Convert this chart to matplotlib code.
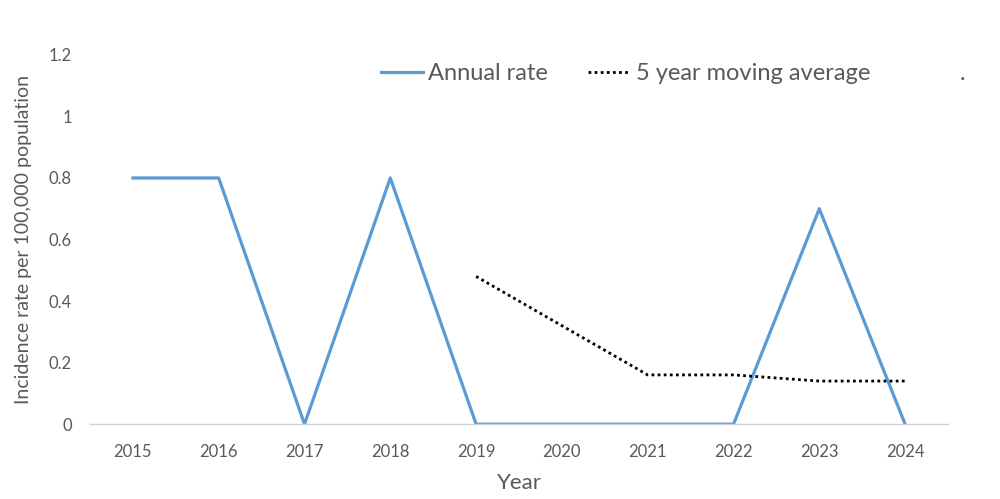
import matplotlib
matplotlib.use("Agg")
import matplotlib.pyplot as plt
from matplotlib.lines import Line2D

plt.rcParams['font.family'] = ['Lato', 'DejaVu Sans']

years = [2015, 2016, 2017, 2018, 2019, 2020, 2021, 2022, 2023, 2024]
annual_rate = [0.8, 0.8, 0.0, 0.8, 0.0, 0.0, 0.0, 0.0, 0.7, 0.0]
ma_years = [2019, 2020, 2021, 2022, 2023, 2024]
moving_avg = [0.48, 0.32, 0.16, 0.16, 0.14, 0.14]
yticks = [0, 0.2, 0.4, 0.6, 0.8, 1, 1.2]
ytick_labels = ['0', '0.2', '0.4', '0.6', '0.8', '1', '1.2']

blue = '#5B9BD5'
text_col = '#595959'

fig = plt.figure(figsize=(10, 4.99), dpi=100)
ax = fig.add_axes([0.09, 0.150, 0.858, 0.740])

xpos = [years.index(y) for y in years]
ma_pos = [years.index(y) for y in ma_years]

ax.plot(xpos, annual_rate, color=blue, lw=2.3, label='Annual rate')
ax.plot(ma_pos, moving_avg, color='black', lw=2.0, linestyle=(0, (1, 1.2)),
        label='5 year moving average')

ax.set_xlim(-0.5, len(years) - 0.5)
ax.set_ylim(0, 1.2)
ax.set_xticks(xpos)
ax.set_xticklabels([str(y) for y in years])
ax.set_yticks(yticks)
ax.set_yticklabels(ytick_labels)
ax.tick_params(axis='both', length=0, labelsize=12, colors=text_col)
ax.tick_params(axis='x', pad=14)
ax.tick_params(axis='y', pad=13)

for side in ['top', 'right', 'left']:
    ax.spines[side].set_visible(False)
ax.spines['bottom'].set_color('#D0D0D0')
ax.spines['bottom'].set_linewidth(1.0)

ax.set_xlabel('Year', fontsize=16, color=text_col, labelpad=10)
ax.set_ylabel('Incidence rate per 100,000 population', fontsize=14,
              color=text_col, labelpad=12)

handles = [
    Line2D([], [], color=blue, lw=2.3),
    Line2D([], [], color='black', lw=2.0, linestyle=(0, (1, 1.2))),
]
labels = ['Annual rate', '5 year moving average']
fig.legend(handles, labels, loc='center left', bbox_to_anchor=(0.360, 0.853),
           ncol=2, frameon=False, fontsize=17, handlelength=1.75,
           handletextpad=0.25, columnspacing=1.7, labelcolor=text_col)
# stray legend entry in the original
fig.text(0.960, 0.853, '.', fontsize=17, color=text_col, va='center')

fig.savefig('out.png', dpi=100)
